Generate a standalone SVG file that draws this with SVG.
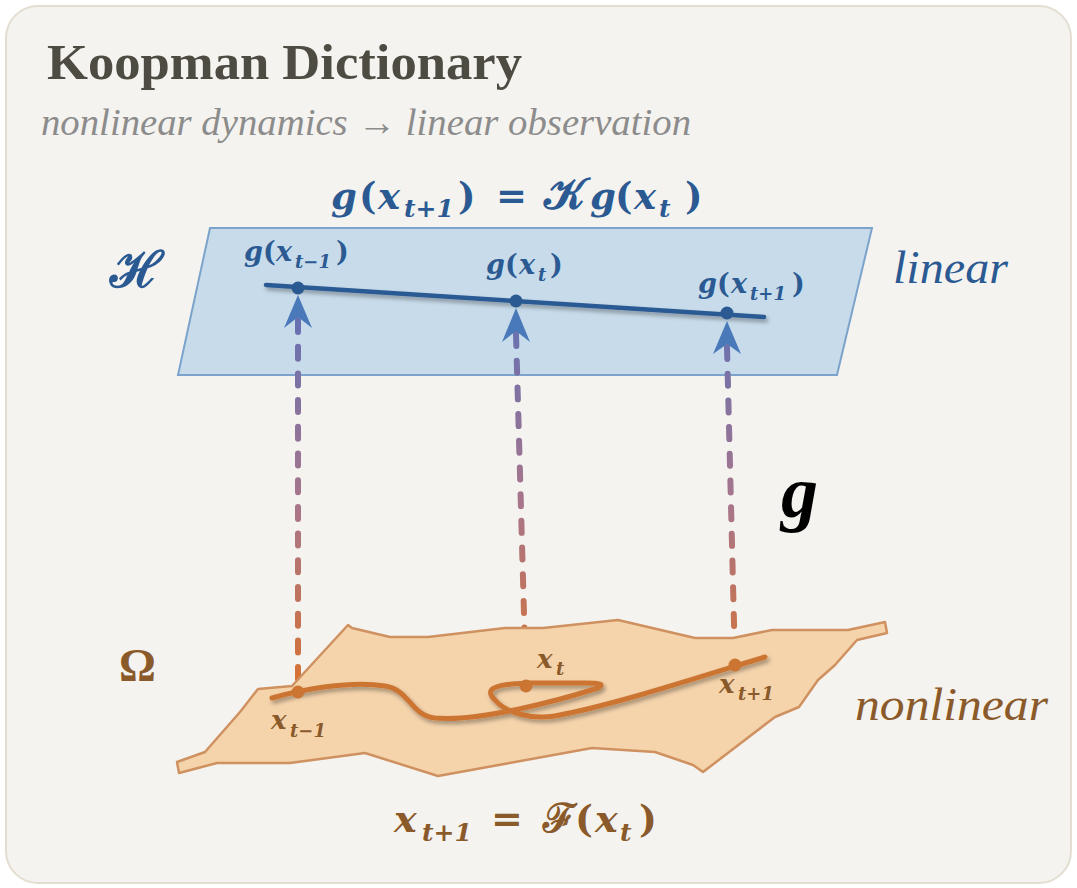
<svg xmlns="http://www.w3.org/2000/svg" width="1077" height="888" viewBox="0 0 1077 888">
<defs>
<style>
.title{font-family:"Liberation Serif",serif;font-weight:bold;font-size:50px;fill:#4e4c42}
.sub{font-family:"Liberation Serif",serif;font-style:italic;font-size:38px;fill:#8c8c8c}
.mb{font-family:"DejaVu Serif","Liberation Serif",serif;font-weight:bold;font-style:italic;fill:#2b5a93}
.mo{font-family:"DejaVu Serif","Liberation Serif",serif;font-weight:bold;font-style:italic;fill:#8a5a2b}
.up{font-style:normal}
.scr{font-style:normal}
.word-b{font-family:"Liberation Serif",serif;font-style:italic;font-size:46px;fill:#2b5a93}
.word-o{font-family:"Liberation Serif",serif;font-style:italic;font-size:46px;fill:#8a5a2b}
.dash{fill:none;stroke:url(#dashGrad);stroke-width:6;stroke-linecap:round;stroke-dasharray:12 14.7}
.head{fill:#4a79b9}
.bdot{fill:#2b5a93}
.odot{fill:#cc7533}
</style>
<linearGradient id="dashGrad" gradientUnits="userSpaceOnUse" x1="0" y1="317" x2="0" y2="692">
<stop offset="0" stop-color="#6670b2"/>
<stop offset="0.5" stop-color="#a8758a"/>
<stop offset="1" stop-color="#d8722f"/>
</linearGradient>
<filter id="shadow" x="-10%" y="-50%" width="120%" height="200%">
<feDropShadow dx="2" dy="3" stdDeviation="2" flood-color="#000" flood-opacity="0.35"/>
</filter>
</defs>

<rect x="6" y="6" width="1065" height="877" rx="32" fill="#f5f3ef" stroke="#e4ddd2" stroke-width="2"/>

<g id="title">
<text class="title" x="47" y="79" textLength="475" lengthAdjust="spacingAndGlyphs">Koopman Dictionary</text>
<text class="sub" x="41" y="135" textLength="650" lengthAdjust="spacingAndGlyphs">nonlinear dynamics → linear observation</text>
</g>

<g id="koopman-equation">
<text class="mb" font-size="37"><tspan x="331" y="209">g</tspan><tspan x="359" y="209" class="up">(</tspan><tspan x="378" y="209">x</tspan><tspan x="404" y="217" font-size="25">t+1</tspan><tspan x="458" y="209" class="up">)</tspan><tspan x="496" y="209" class="up">=</tspan><tspan x="544" y="209" class="scr" font-size="44">𝒦</tspan><tspan x="590" y="209">g</tspan><tspan x="615" y="209" class="up">(</tspan><tspan x="634" y="209">x</tspan><tspan x="659" y="217" font-size="25">t</tspan><tspan x="685" y="209" class="up">)</tspan></text>
</g>

<g id="hilbert-plane">
<polygon points="210,228 872,228 837,375 178,375" fill="#c7dbea" stroke="#7ba3cb" stroke-width="2"/>
<text class="mb scr" font-size="50" x="110" y="287">ℋ</text>
<text class="word-b" x="893" y="283" textLength="115" lengthAdjust="spacingAndGlyphs">linear</text>
</g>

<g id="connectors">
<path class="dash" d="M298,320 L298,690"/>
<path class="dash" d="M516,334 L526,684"/>
<path class="dash" d="M727,347 L735,663"/>
</g>

<g id="linear-trajectory">
<line x1="266" y1="285" x2="764" y2="317" stroke="#2b5a93" stroke-width="4.5" stroke-linecap="round" filter="url(#shadow)"/>
<circle class="bdot" cx="298" cy="288" r="6.5"/>
<circle class="bdot" cx="516" cy="301" r="6.5"/>
<circle class="bdot" cx="727" cy="313" r="6.5"/>
<path class="head" d="M298,295 L312,328 L298,317 L284,328 Z"/>
<path class="head" d="M516,308 L530,342 L516,331 L502,342 Z"/>
<path class="head" d="M727,321 L741,354 L727,344 L713,354 Z"/>
<text class="mb" font-size="27"><tspan x="244" y="261">g</tspan><tspan x="263" y="261" class="up">(</tspan><tspan x="276" y="261">x</tspan><tspan x="295" y="268" font-size="18">t−1</tspan><tspan x="336" y="261" class="up">)</tspan></text>
<text class="mb" font-size="27"><tspan x="486" y="274">g</tspan><tspan x="505" y="274" class="up">(</tspan><tspan x="519" y="274">x</tspan><tspan x="538" y="281" font-size="18">t</tspan><tspan x="550" y="274" class="up">)</tspan></text>
<text class="mb" font-size="27"><tspan x="698" y="293">g</tspan><tspan x="717" y="293" class="up">(</tspan><tspan x="731" y="293">x</tspan><tspan x="750" y="300" font-size="18">t+1</tspan><tspan x="792" y="293" class="up">)</tspan></text>
</g>

<g id="map-label">
<text x="781" y="517" font-family="Liberation Serif,serif" font-weight="bold" font-style="italic" font-size="74" fill="#000">g</text>
</g>

<g id="state-manifold">
<polygon points="348,625 352,628 390,637 428,637 505,628 543,628 618,620 695,638 733,638 772,630 848,630 885,622 887,633 857,640 835,665 818,680 799,707 775,717 703,772 693,765 655,752 592,748 438,776 365,753 290,763 217,763 179,773 177,762 205,752 240,712 258,689 292,686" fill="#f5d4ac" stroke="#cf9160" stroke-width="2.5" stroke-linejoin="round"/>
<text x="119" y="681" font-family="Liberation Serif,serif" font-weight="bold" font-size="46" fill="#8a5a2b">Ω</text>
<text class="word-o" x="855" y="720" textLength="193" lengthAdjust="spacingAndGlyphs">nonlinear</text>
</g>

<g id="nonlinear-trajectory">
<path d="M272,698 C300,690 350,680 385,686 C410,690 410,715 435,718 C480,722 560,700 598,688 C605,684 600,683 585,683 L530,683 C490,684 485,690 495,700 C505,712 530,720 555,716 C610,706 690,680 765,657" fill="none" stroke="#cc7533" stroke-width="5" stroke-linecap="round" filter="url(#shadow)"/>
<circle class="odot" cx="298" cy="692" r="6.5"/>
<circle class="odot" cx="526" cy="686" r="6.5"/>
<circle class="odot" cx="735" cy="665" r="6.5"/>
<text class="mo" font-size="26"><tspan x="271" y="729">x</tspan><tspan x="290" y="737" font-size="18">t−1</tspan></text>
<text class="mo" font-size="26"><tspan x="537" y="668">x</tspan><tspan x="556" y="675" font-size="18">t</tspan></text>
<text class="mo" font-size="26"><tspan x="719" y="693">x</tspan><tspan x="738" y="700" font-size="18">t+1</tspan></text>
</g>

<g id="dynamics-equation">
<text class="mo" font-size="38"><tspan x="394" y="832">x</tspan><tspan x="422" y="841" font-size="25">t+1</tspan><tspan x="491" y="832" class="up">=</tspan><tspan x="543" y="832" class="scr" font-size="40">ℱ</tspan><tspan x="575" y="832" class="up">(</tspan><tspan x="595" y="832">x</tspan><tspan x="620" y="841" font-size="25">t</tspan><tspan x="639" y="832" class="up">)</tspan></text>
</g>
</svg>
